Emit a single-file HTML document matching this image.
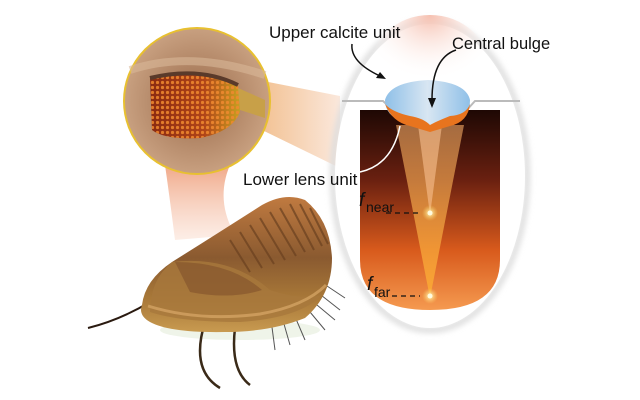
<!DOCTYPE html>
<html><head><meta charset="utf-8"><style>
html,body{margin:0;padding:0;background:#fff;}
svg{display:block}
text{font-family:"Liberation Sans",sans-serif;fill:#111}
</style></head><body>
<svg width="640" height="400" viewBox="0 0 640 400" xmlns="http://www.w3.org/2000/svg">
<defs>
<linearGradient id="cone1" x1="0" y1="0" x2="0" y2="1">
<stop offset="0" stop-color="#f0a888"/><stop offset="1" stop-color="#fbe2d6" stop-opacity="0.6"/></linearGradient>
<linearGradient id="cone2" x1="0" y1="0" x2="1" y2="0">
<stop offset="0" stop-color="#f2c090"/><stop offset="1" stop-color="#fbe8dc"/></linearGradient>
<linearGradient id="tube" x1="0" y1="0" x2="0" y2="1">
<stop offset="0" stop-color="#1e0804"/><stop offset="0.35" stop-color="#6a2010"/><stop offset="0.7" stop-color="#d85a1c"/><stop offset="1" stop-color="#f59a50"/></linearGradient>
<radialGradient id="circ" cx="0.5" cy="0.5" r="0.5">
<stop offset="0" stop-color="#9a6a4a"/><stop offset="1" stop-color="#c8a080"/></radialGradient>
<linearGradient id="eye" x1="0" y1="0" x2="1" y2="0">
<stop offset="0" stop-color="#8a2a10"/><stop offset="0.6" stop-color="#b04418"/><stop offset="1" stop-color="#c8a020"/></linearGradient>
<pattern id="dots" width="5" height="5" patternUnits="userSpaceOnUse">
<circle cx="2.5" cy="2.5" r="1.6" fill="#f08a30"/></pattern>
<linearGradient id="lens" x1="0" y1="0" x2="1" y2="0">
<stop offset="0" stop-color="#8fc0e8"/><stop offset="0.5" stop-color="#d8e6f2"/><stop offset="1" stop-color="#8fc0e8"/></linearGradient>
<linearGradient id="beam" x1="0" y1="0" x2="0" y2="1">
<stop offset="0" stop-color="#e8a060" stop-opacity="0.8"/><stop offset="1" stop-color="#ffb030" stop-opacity="0.95"/></linearGradient>
<linearGradient id="body" x1="0" y1="0" x2="0" y2="1">
<stop offset="0" stop-color="#c07a40"/><stop offset="0.45" stop-color="#8a5a30"/><stop offset="0.75" stop-color="#a87838"/><stop offset="1" stop-color="#c89a50"/></linearGradient>
<radialGradient id="glow"><stop offset="0" stop-color="#fff8c0"/><stop offset="1" stop-color="#ffd060" stop-opacity="0"/></radialGradient>
<radialGradient id="top" cx="0.5" cy="0" r="0.6"><stop offset="0" stop-color="#f6c0b0"/><stop offset="1" stop-color="#fff" stop-opacity="0"/></radialGradient>
<filter id="blur"><feGaussianBlur stdDeviation="3"/></filter>
</defs>
<!-- cones -->
<path d="M165 165 L230 165 Q215 200 235 235 L175 240 Q170 200 165 165Z" fill="url(#cone1)"/>
<path d="M258 80 L340 96 L340 168 L262 130Z" fill="url(#cone2)"/>
<!-- ellipse -->
<ellipse cx="430" cy="176" rx="97" ry="154" fill="none" stroke="#ddd" stroke-width="6" filter="url(#blur)"/>
<ellipse cx="430" cy="176" rx="95" ry="152" fill="#fff"/>
<ellipse cx="430" cy="70" rx="60" ry="55" fill="url(#top)"/>
<path d="M342 101 L383 101 L395 112 L465 112 L475 101 L520 101" stroke="#bbb" stroke-width="2" fill="none"/>
<path d="M360 110 L500 110 L500 260 Q500 310 430 310 Q360 310 360 260Z" fill="url(#tube)"/>
<!-- beams -->
<path d="M396 125 L464 125 L430 298Z" fill="url(#beam)" opacity="0.8"/>
<path d="M418 125 L442 125 L430 215Z" fill="#f8c090" opacity="0.6"/>
<!-- lens -->
<path d="M385 100 Q390 82 428 80 Q466 82 470 100 Q470 118 455 122 L432 130 L404 122 Q385 116 385 100Z" fill="url(#lens)"/>
<path d="M385 104 Q392 122 410 126 L430 132 L450 126 Q468 122 470 104 Q466 115 450 116 Q435 122 430 125 Q423 118 410 116 Q392 112 385 104Z" fill="#e8741e"/>
<circle cx="430" cy="213" r="8" fill="url(#glow)"/><circle cx="430" cy="213" r="2.5" fill="#fffbe0"/>
<circle cx="430" cy="296" r="8" fill="url(#glow)"/><circle cx="430" cy="296" r="2.5" fill="#fffbe0"/>
<path d="M386 213 L420 213 M392 296 L420 296" stroke="#111" stroke-width="1.3" stroke-dasharray="5,4"/>
<!-- arrows -->
<path d="M352 44 Q350 62 380 76" stroke="#111" stroke-width="1.5" fill="none"/>
<path d="M386 79 L376 78 L380 72Z" fill="#111"/>
<path d="M456 50 Q432 58 432 100" stroke="#111" stroke-width="1.5" fill="none"/>
<path d="M432 108 L428 98 L436 98Z" fill="#111"/>
<path d="M360 172 Q392 165 400 126" stroke="#fff" stroke-width="1.5" fill="none"/>
<!-- texts -->
<text x="269" y="38" font-size="17">Upper calcite unit</text>
<text x="452" y="49" font-size="16.5">Central bulge</text>
<text x="243" y="185" font-size="17">Lower lens unit</text>
<text x="359" y="206" font-size="19" font-style="italic" font-family="Liberation Serif">f</text>
<text x="366" y="212" font-size="14">near</text>
<text x="367" y="290" font-size="19" font-style="italic" font-family="Liberation Serif">f</text>
<text x="374" y="297" font-size="14">far</text>
<!-- inset circle -->
<circle cx="197" cy="101" r="73" fill="url(#circ)" stroke="#e8c030" stroke-width="2"/>
<path d="M130 70 Q190 50 265 75" stroke="#d8b898" stroke-width="8" fill="none" opacity="0.6"/>
<path d="M150 78 Q200 68 238 85 L240 112 Q232 132 200 138 Q165 140 152 130Z" fill="url(#eye)"/>
<path d="M150 78 Q200 68 238 85 L240 112 Q232 132 200 138 Q165 140 152 130Z" fill="url(#dots)" opacity="0.85"/>
<path d="M238 88 L265 100 L265 118 L240 110Z" fill="#c8a048"/>
<path d="M150 78 Q200 66 238 85" stroke="#5a3a2a" stroke-width="4" fill="none"/>
<!-- trilobite -->
<ellipse cx="240" cy="330" rx="80" ry="10" fill="#e8efe0" opacity="0.7"/>
<path d="M88 328 Q120 320 150 302" stroke="#2a1a10" stroke-width="2" fill="none"/>
<path d="M205 322 Q190 370 220 388 M235 328 Q230 370 250 385" stroke="#3a2a18" stroke-width="2.5" fill="none"/>
<g stroke="#555" stroke-width="1">
<path d="M300 300 L325 330 M305 295 L335 320 M312 288 L340 310 M290 305 L305 340 M280 310 L290 345 M270 312 L275 350 M318 280 L345 298"/>
</g>
<path d="M142 305 Q145 280 172 262 Q215 235 262 205 Q285 192 305 200 Q330 220 332 258 Q332 295 305 318 Q270 332 225 332 Q170 333 150 322 Q138 315 142 305Z" fill="url(#body)"/>
<path d="M172 262 Q230 255 270 290 Q300 300 322 295 Q300 318 240 322 Q180 322 150 312 Q150 280 172 262Z" fill="#a8783c" opacity="0.8"/>
<path d="M175 262 Q230 262 262 290 Q230 300 190 292 Z" fill="#7a4a28" opacity="0.5"/>
<g stroke="#6a4020" stroke-width="2" fill="none" opacity="0.7">
<path d="M230 240 L250 272 M240 232 L262 268 M250 225 L274 264 M260 218 L285 260 M270 212 L296 256 M280 208 L305 252 M290 204 L314 250 M300 204 L322 246 M310 208 L328 244"/>
</g>
<path d="M148 306 Q200 322 260 314 Q305 306 326 285" stroke="#d8a868" stroke-width="3" fill="none" opacity="0.7"/>
</svg>
</body></html>
